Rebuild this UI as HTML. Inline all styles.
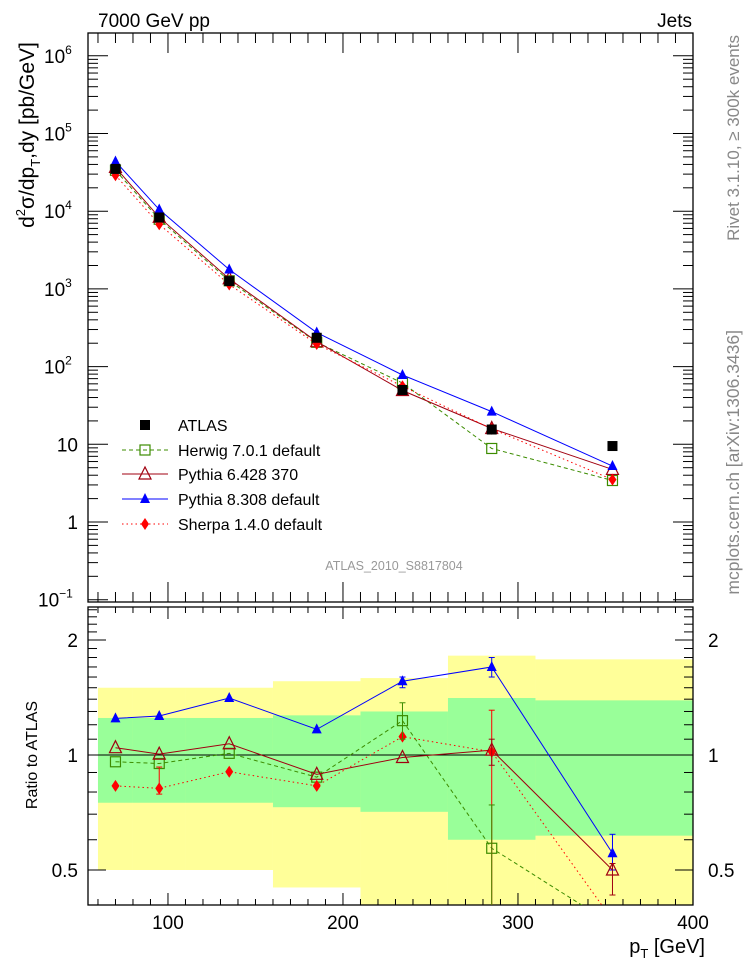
<!DOCTYPE html>
<html><head><meta charset="utf-8"><style>
html,body{margin:0;padding:0;background:#fff}
svg{display:block;font-family:"Liberation Sans",sans-serif}
</style></head><body>
<svg id="c" width="746" height="972" viewBox="0 0 746 972" xmlns="http://www.w3.org/2000/svg">
<g id="bands"></g>
<g id="frames"></g>
<g id="series"></g>
<text x="98" y="27" font-size="19">7000 GeV pp</text>
<text x="692" y="27" font-size="19" text-anchor="end">Jets</text>
<text x="394" y="570" font-size="12.5" fill="#999" text-anchor="middle">ATLAS_2010_S8817804</text>
<text transform="translate(34,135) rotate(-90)" font-size="21" text-anchor="middle">d<tspan font-size="13" dy="-9">2</tspan><tspan dy="9">σ/dp</tspan><tspan font-size="13" dy="6">T</tspan><tspan dy="-6">,dy [pb/GeV]</tspan></text>
<text transform="translate(37,755) rotate(-90)" font-size="16" text-anchor="middle">Ratio to ATLAS</text>
<text x="705" y="953" font-size="20" text-anchor="end">p<tspan font-size="13" dy="5">T</tspan><tspan dy="-5"> [GeV]</tspan></text>
<text transform="translate(739,35) rotate(-90)" font-size="17" fill="#888" text-anchor="end">Rivet 3.1.10, ≥ 300k events</text>
<text transform="translate(739,330) rotate(-90)" font-size="17.5" fill="#888" text-anchor="end">mcplots.cern.ch [arXiv:1306.3436]</text>
<g id="legend"></g>
</svg>
<script>
const binEdges=[60,80,110,160,210,260,310,400];
const xPoints=[70,95,135,185,234,285,354];
const atlas=[35000,8300,1260,235,50,15.5,9.5];
const yellowHi=[1.50,1.50,1.50,1.56,1.59,1.82,1.78];
const greenHi=[1.25,1.25,1.25,1.27,1.30,1.41,1.39];
const greenLo=[0.75,0.75,0.75,0.73,0.71,0.60,0.615];
const yellowLo=[0.50,0.50,0.50,0.45,0.30,0.30,0.30];
const herwigRatio=[0.96,0.95,1.01,0.875,1.23,0.57,0.36];
const pythia6Ratio=[1.045,1.005,1.07,0.89,0.985,1.03,0.50];
const pythia8Ratio=[1.247,1.265,1.41,1.167,1.56,1.70,0.553];
const sherpaRatio=[0.83,0.818,0.904,0.83,1.117,1.02,0.37];
const ratioTicks=[0.5,1,2];
const xTicks=[100,200,300,400];

const NS="http://www.w3.org/2000/svg";
const L=88,R=693,MT=33,MB=602,RT=607,RB=905;
const xs=v=>L+(v-54.3)*1.75;
const ym=v=>522-Math.log10(v)*77.7;
const yr=v=>755-Math.log10(v)*382;
function mk(p,tag,a){const e=document.createElementNS(NS,tag);for(const k in a)e.setAttribute(k,a[k]);p.appendChild(e);return e;}
const svg=document.getElementById('c');
const bands=document.getElementById('bands'),frames=document.getElementById('frames'),series=document.getElementById('series'),legend=document.getElementById('legend');

const defs=mk(svg,'defs',{});
const cp=mk(defs,'clipPath',{id:'rclip'});mk(cp,'rect',{x:L,y:RT,width:R-L,height:RB-RT});
const cpm=mk(defs,'clipPath',{id:'mclip'});mk(cpm,'rect',{x:L,y:MT,width:R-L,height:MB-MT});
bands.setAttribute('clip-path','url(#rclip)');

for(let i=0;i<xPoints.length;i++){
  const x0=xs(binEdges[i]),x1=xs(binEdges[i+1]);
  let r=mk(bands,'rect',{x:x0,y:yr(yellowHi[i]),width:x1-x0,height:yr(yellowLo[i])-yr(yellowHi[i]),fill:'#ffff99'});
  
  
  r=mk(bands,'rect',{x:x0,y:yr(greenHi[i]),width:x1-x0,height:yr(greenLo[i])-yr(greenHi[i]),fill:'#99ff99'});
  
  
}
mk(bands,'line',{x1:L,x2:R,y1:yr(1),y2:yr(1),stroke:'#000','stroke-width':1});

mk(frames,'rect',{x:L,y:MT,width:R-L,height:MB-MT,fill:'none',stroke:'#000','stroke-width':1.3});
mk(frames,'rect',{x:L,y:RT,width:R-L,height:RB-RT,fill:'none',stroke:'#000','stroke-width':1.3});
function tk(x1,y1,x2,y2){mk(frames,'line',{x1,y1,x2,y2,stroke:'#000','stroke-width':1});}
for(let v=60;v<=400;v+=10){
  const x=xs(v);const maj=v%100===0;const len=maj?20:10;
  [[MT,1],[MB,-1],[RT,1],[RB,-1]].forEach(([y,d])=>tk(x,y,x,y+d*len*(y===RT||y===RB?0.6:1)));
}
xTicks.forEach(v=>{const t=mk(svg,'text',{x:xs(v),y:929,'font-size':19,'text-anchor':'middle'});t.textContent=v;
 
 });
for(let e=-1;e<=6;e++){
  for(let m=1;m<10;m++){
    const v=m*Math.pow(10,e);const y=ym(v);if(y<MT||y>MB)continue;
    const len=m===1?20:10;tk(L,y,L+len,y);tk(R,y,R-len,y);
  }
}
const mainLabels=['10<tspan font-size="12" dy="-9">−1</tspan>','1','10','10<tspan font-size="12" dy="-9">2</tspan>','10<tspan font-size="12" dy="-9">3</tspan>','10<tspan font-size="12" dy="-9">4</tspan>','10<tspan font-size="12" dy="-9">5</tspan>','10<tspan font-size="12" dy="-9">6</tspan>'];
for(let e=-1;e<=6;e++){
  const t=mk(svg,'text',{x:78,y:ym(Math.pow(10,e))+7,'font-size':19,'text-anchor':e<=1?'end':'start'});
  if(e>1){t.setAttribute('x',44);}
  if(e===-1){t.setAttribute('x',38);t.setAttribute('text-anchor','start');}
  t.innerHTML=mainLabels[e+1];
  
  
}
for(let v=0.4;v<=2.5;v+=0.1){const y=yr(v);if(y<RT||y>RB)continue;
  const maj=Math.abs(v-0.5)<1e-6||Math.abs(v-1)<1e-6||Math.abs(v-2)<1e-6;const len=maj?18:9;tk(L,y,L+len,y);tk(R,y,R-len,y);}
ratioTicks.forEach(v=>{
  let t=mk(svg,'text',{x:78,y:yr(v)+7,'font-size':19,'text-anchor':'end'});t.textContent=v;
  
  
  t=mk(svg,'text',{x:708,y:yr(v)+7,'font-size':19});t.textContent=v;
  
  
});

function marker(g,type,x,y,col){
  if(type==='sq')return mk(g,'rect',{x:x-5,y:y-5,width:10,height:10,fill:'#000'});
  if(type==='osq')return mk(g,'rect',{x:x-5,y:y-5,width:10,height:10,fill:'none',stroke:col,'stroke-width':1.2});
  if(type==='otri')return mk(g,'polygon',{points:`${x},${y-7} ${x-6},${y+5} ${x+6},${y+5}`,fill:'none',stroke:col,'stroke-width':1.2});
  if(type==='tri')return mk(g,'polygon',{points:`${x},${y-6} ${x-5},${y+4} ${x+5},${y+4}`,fill:col});
  if(type==='dia')return mk(g,'polygon',{points:`${x},${y-6} ${x-4},${y} ${x},${y+6} ${x+4},${y}`,fill:col});
}
const mcs=[
 {name:'herwig',ratio:herwigRatio,col:'#3c8c00',dash:'4,3',m:'osq',label:'Herwig 7.0.1 default'},
 {name:'pythia6',ratio:pythia6Ratio,col:'#a00010',dash:'',m:'otri',label:'Pythia 6.428 370'},
 {name:'pythia8',ratio:pythia8Ratio,col:'#0000ff',dash:'',m:'tri',label:'Pythia 8.308 default'},
 {name:'sherpa',ratio:sherpaRatio,col:'#ff0000',dash:'1.5,3',m:'dia',label:'Sherpa 1.4.0 default'}
];
mcs.forEach(s=>{
  const gm=mk(series,'g',{'clip-path':'url(#mclip)'});
  
  
  const gr=mk(series,'g',{'clip-path':'url(#rclip)'});
  
  
  const pm=xPoints.map((x,i)=>xs(x)+','+ym(atlas[i]*s.ratio[i])).join(' ');
  const pr=xPoints.map((x,i)=>xs(x)+','+yr(s.ratio[i])).join(' ');
  mk(gm,'polyline',{points:pm,fill:'none',stroke:s.col,'stroke-width':1,'stroke-dasharray':s.dash});
  mk(gr,'polyline',{points:pr,fill:'none',stroke:s.col,'stroke-width':1,'stroke-dasharray':s.dash});
  xPoints.forEach((x,i)=>{
    const a=marker(gm,s.m,xs(x),ym(atlas[i]*s.ratio[i]),s.col);
    
    
    const b=marker(gr,s.m,xs(x),yr(s.ratio[i]),s.col);
    
    
  });
});
[[1,3,0.93,0.79,'#ff0000'],[5,3,1.31,0.3,'#ff0000'],[4,0,1.37,1.1,'#3c8c00'],[5,0,0.74,0.3,'#3c8c00'],[5,2,1.8,1.6,'#0000ff'],[4,2,1.6,1.5,'#0000ff'],[6,2,0.62,0.5,'#0000ff'],[6,1,0.52,0.43,'#a00010'],[5,1,1.1,0.94,'#a00010']].forEach(([i,k,hi,lo,c])=>{
  const x=xs(xPoints[i]);const e=mk(series,'g',{'clip-path':'url(#rclip)',stroke:c,'stroke-width':1});
  
  
  mk(e,'line',{x1:x,x2:x,y1:yr(hi),y2:yr(lo)});mk(e,'line',{x1:x-3,x2:x+3,y1:yr(hi),y2:yr(hi)});mk(e,'line',{x1:x-3,x2:x+3,y1:yr(lo),y2:yr(lo)});
});
xPoints.forEach((x,i)=>{const a=marker(series,'sq',xs(x),ym(atlas[i]),'#000');
  
  });
const lx=145,ly=[425,450,474,499,524];
marker(legend,'sq',lx,ly[0],'#000');
let t=mk(legend,'text',{x:178,y:ly[0]+6,'font-size':16});t.textContent='ATLAS';


mcs.forEach((s,k)=>{const y=ly[k+1];
  mk(legend,'line',{x1:122,x2:168,y1:y,y2:y,stroke:s.col,'stroke-width':1,'stroke-dasharray':s.dash});
  marker(legend,s.m,lx,y,s.col);
  const tt=mk(legend,'text',{x:178,y:y+6,'font-size':16});tt.textContent=s.label;
  
  
});
</script>
</body></html>
